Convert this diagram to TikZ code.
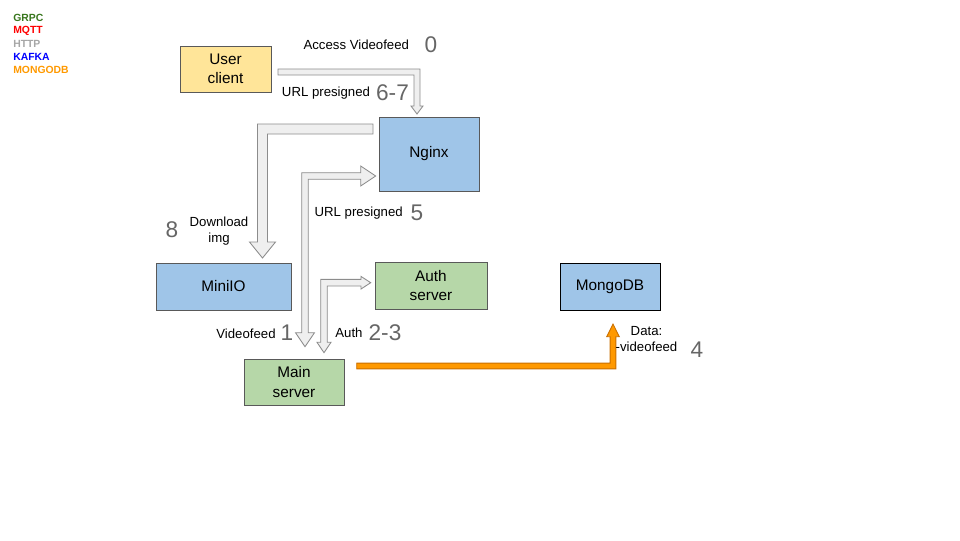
\documentclass[tikz,border=0pt]{standalone}
\usepackage{fontspec}
\setmainfont{Liberation Sans}
\definecolor{ucfill}{HTML}{FFE599}
\definecolor{bluefill}{HTML}{9FC5E8}
\definecolor{greenfill}{HTML}{B6D7A8}
\definecolor{edgegray}{HTML}{595959}
\definecolor{arrowfill}{HTML}{EFEFEF}
\definecolor{arrowedge}{HTML}{8C8C8C}
\definecolor{orangefill}{HTML}{FF9900}
\definecolor{orangeedge}{HTML}{C86E00}
\definecolor{numgray}{HTML}{666666}
\definecolor{grpc}{HTML}{38761D}
\definecolor{mqtt}{HTML}{FF0000}
\definecolor{http}{HTML}{A6A6A6}
\definecolor{kafka}{HTML}{0000FF}
\definecolor{mongo}{HTML}{FF9900}
\begin{document}
\begin{tikzpicture}[x=0.75pt,y=-0.75pt,
  box/.style={draw=edgegray, line width=0.65pt, align=center, inner sep=0pt,
    font=\fontsize{11.5}{14.5}\selectfont},
  lbl/.style={inner sep=0pt, align=center, font=\fontsize{9.9}{12.5}\selectfont},
  num/.style={inner sep=0pt, text=numgray, font=\fontsize{17}{20}\selectfont},
  leg/.style={inner sep=0pt, anchor=west, font=\fontsize{7.8}{9}\selectfont\bfseries},
  garrow/.style={draw=arrowedge, fill=arrowfill, line width=0.65pt, line join=miter},
  oarrow/.style={draw=orangeedge, fill=orangefill, line width=0.65pt, line join=miter}]
\useasboundingbox (0,0) rectangle (960,540);

% legend
\node[leg, text=grpc] (lg1) at (13,17.7) {GRPC};
\node[leg, text=mqtt] (lg2) at (13,31) {MQTT};
\node[leg, text=http] (lg3) at (13,44) {HTTP};
\node[leg, text=kafka] (lg4) at (13,57) {KAFKA};
\node[leg, text=mongo] (lg5) at (13,70) {MONGODB};

% nodes
\node[box, fill=ucfill, minimum width=68.25pt, minimum height=34.5pt] (user) at (225.5,69) {User\\client};
\node[box, fill=bluefill, minimum width=75pt, minimum height=55.5pt] (nginx) at (429,154) {Nginx};
\node[box, fill=bluefill, minimum width=101.25pt, minimum height=35.25pt] (minio) at (223.5,286.5) {MiniIO};
\node[box, fill=greenfill, minimum width=84pt, minimum height=35.25pt] (auth) at (431,285.5) {Auth\\server};
\node[box, fill=bluefill, draw=black, minimum width=75pt, minimum height=35.25pt] (mongo) at (610,286.5) {MongoDB};
\node[box, fill=greenfill, minimum width=75pt, minimum height=34.5pt] (main) at (294,382) {Main\\server};

% block arrows
% 1: user -> nginx
\draw[garrow] (278,69) -- (420,69) -- (420,106) -- (423,106) -- (417,114) -- (411,106) -- (414,106) -- (414,75) -- (278,75) -- cycle;
% 2: nginx -> minio
\draw[garrow] (373,124) -- (257.5,124) -- (257.5,242) -- (249.5,242) -- (262.5,258) -- (275.5,242) -- (267.5,242) -- (267.5,134) -- (373,134) -- cycle;
% 3: main <-> nginx
\draw[garrow] (305,346.7) -- (295.5,332.7) -- (301.7,332.7) -- (301.7,172.7) -- (360.7,172.7) -- (360.7,166) -- (375.7,176) -- (360.7,186) -- (360.7,179.3) -- (308.3,179.3) -- (308.3,332.7) -- (314.5,332.7) -- cycle;
% 4: main <-> auth
\draw[garrow] (324,352.7) -- (317,342.3) -- (320.7,342.3) -- (320.7,279.4) -- (361,279.4) -- (361,276.4) -- (370.7,282.7) -- (361,289) -- (361,286) -- (327.3,286) -- (327.3,342.3) -- (331,342.3) -- cycle;
% 5: main -> mongo
\draw[oarrow] (356.7,363.1) -- (610.1,363.1) -- (610.1,336.7) -- (606.7,336.7) -- (613,324) -- (619.3,336.7) -- (615.9,336.7) -- (615.9,368.9) -- (356.7,368.9) -- cycle;

% labels
\node[lbl] (l0) at (356.3,45) {Access Videofeed};
\node[num] (n0) at (431,45) {0};
\node[lbl] (l67) at (326,93.3) {URL presigned};
\node[num] (n67) at (392.5,93) {6-7};
\node[lbl] (l8) at (219,231) {Download\\img};
\node[num] (n8) at (172,230) {8};
\node[lbl] (l5) at (358.7,212.7) {URL presigned};
\node[num] (n5) at (417,213) {5};
\node[lbl] (l1) at (246,333.3) {Videofeed};
\node[num] (n1) at (287,333) {1};
\node[lbl] (l23) at (349,333) {Auth};
\node[num] (n23) at (385,333) {2-3};
\node[lbl] (l4) at (646.5,339) {Data:\\-videofeed};
\node[num] (n4) at (697,350) {4};
\end{tikzpicture}
\end{document}
